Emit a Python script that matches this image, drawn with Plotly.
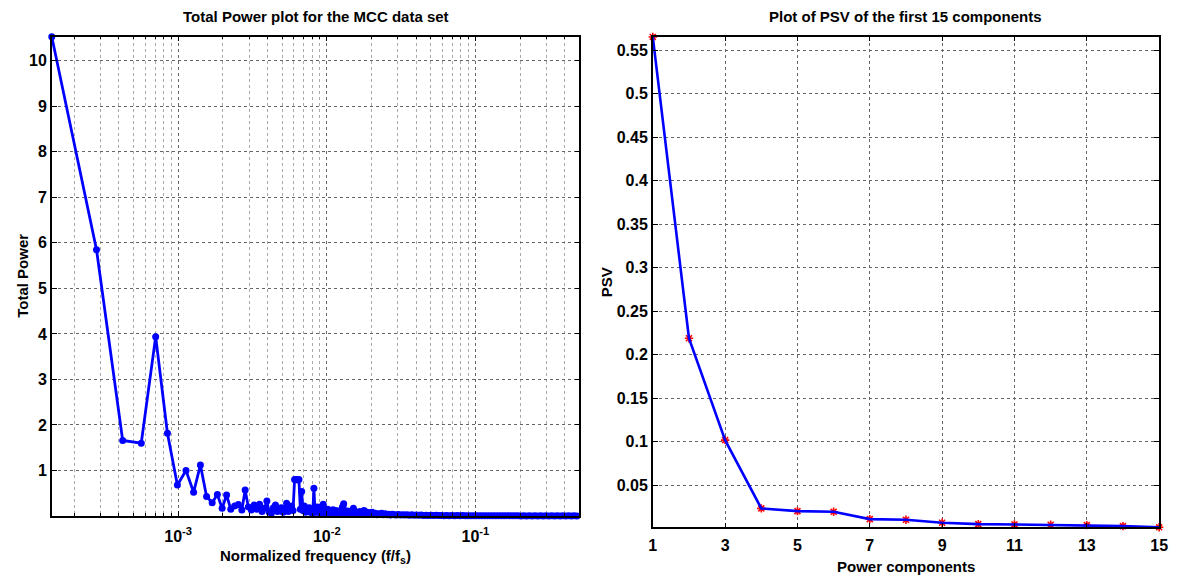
import plotly.graph_objects as go
import math

# ---------------- data ----------------
N_SAMPLES = 7080  # record length -> frequency resolution 1/N

# left panel: frequency index k (f/fs = k/N) and total power
power_k = [
    1, 2, 3, 4, 5, 6, 7, 8, 9, 10,
    11, 12, 13, 14, 15, 16, 17, 18, 19, 20,
    21, 22, 23, 24, 25, 26, 27, 28, 29, 30,
    31, 32, 33, 34, 35, 36, 37, 38, 39, 40,
    41, 42, 43, 44, 45, 46, 47, 48, 49, 50,
    51, 52, 53, 54, 55, 56, 57, 58, 59, 60,
    61, 62, 63, 64, 65, 66, 67, 68, 69, 70,
    71, 72, 73, 74, 75, 76, 77, 78, 79, 80,
    81, 82, 83, 84, 85, 86, 87, 88, 89, 90,
    91, 92, 93, 94, 95, 96, 97, 98, 99, 100,
    102, 104, 106, 107, 108, 110, 112, 115, 118, 120,
    123, 126, 128, 131, 134, 137, 140, 143, 147, 150,
    154, 158, 162, 166, 170, 175, 180, 185, 190, 196,
    202, 208, 215, 222, 230, 238, 246, 255, 264, 274,
    284, 295, 306, 318, 330, 343, 357, 371, 386, 402,
    418, 435, 453, 472, 492, 513, 535, 558, 582, 607,
    633, 660, 689, 719, 750, 783, 817, 853, 890, 929,
    970, 1013, 1058, 1105, 1154, 1205, 1258, 1314, 1372, 1433,
    1497, 1563, 1632, 1704, 1780, 1859, 1941, 2027, 2117, 2211,
    2309, 2411, 2518, 2630, 2746, 2868, 2995, 3128, 3266, 3411,
    3540,
]
total_power = [
    10.53, 5.85, 1.66, 1.60, 3.94, 1.82, 0.68, 1.00, 0.52, 1.12,
    0.43, 0.29, 0.47, 0.17, 0.46, 0.15, 0.22, 0.25, 0.13, 0.57,
    0.20, 0.13, 0.24, 0.15, 0.26, 0.10, 0.17, 0.33, 0.09, 0.06,
    0.18, 0.24, 0.10, 0.12, 0.18, 0.08, 0.14, 0.28, 0.10, 0.16,
    0.22, 0.12, 0.80, 0.80, 0.79, 0.80, 0.15, 0.54, 0.12, 0.22,
    0.08, 0.14, 0.10, 0.18, 0.08, 0.12, 0.06, 0.61, 0.12, 0.08,
    0.20, 0.10, 0.18, 0.06, 0.14, 0.22, 0.26, 0.08, 0.12, 0.05,
    0.10, 0.15, 0.06, 0.12, 0.08, 0.04, 0.10, 0.14, 0.06, 0.09,
    0.12, 0.05, 0.08, 0.11, 0.04, 0.07, 0.10, 0.05, 0.12, 0.18,
    0.22, 0.27, 0.12, 0.06, 0.09, 0.04, 0.08, 0.11, 0.05, 0.07,
    0.10, 0.06, 0.12, 0.17, 0.08, 0.05, 0.09, 0.06, 0.10, 0.04,
    0.08, 0.12, 0.06, 0.09, 0.04, 0.07, 0.05, 0.08, 0.04, 0.06,
    0.03, 0.05, 0.04, 0.06, 0.03, 0.05, 0.03, 0.04, 0.02, 0.04,
    0.03, 0.02, 0.035, 0.02, 0.03, 0.02, 0.025, 0.015, 0.025, 0.015,
    0.02, 0.015, 0.02, 0.012, 0.018, 0.010, 0.016, 0.010, 0.014, 0.010,
    0.013, 0.008, 0.012, 0.008, 0.011, 0.007, 0.010, 0.006, 0.009, 0.006,
    0.008, 0.005, 0.008, 0.005, 0.007, 0.004, 0.007, 0.004, 0.006, 0.004,
    0.006, 0.003, 0.005, 0.003, 0.005, 0.003, 0.004, 0.003, 0.004, 0.002,
    0.004, 0.002, 0.003, 0.002, 0.003, 0.002, 0.003, 0.002, 0.003, 0.002,
    0.003, 0.002, 0.003, 0.002, 0.003, 0.002, 0.003, 0.002, 0.003, 0.002,
    0.003,
]
freq_norm = [k / N_SAMPLES for k in power_k]

# right panel: PSV of the first 15 components
components = [1, 2, 3, 4, 5, 6, 7, 8, 9, 10, 11, 12, 13, 14, 15]
psv = [0.565, 0.219, 0.102, 0.0236, 0.0205, 0.0197, 0.0113, 0.0105,
       0.0071, 0.0056, 0.0052, 0.0048, 0.0044, 0.0033, 0.0019]

left_xticks = [1e-3, 1e-2, 1e-1]
left_xticktext = ["10<sup>-3</sup>", "10<sup>-2</sup>", "10<sup>-1</sup>"]
left_yticks = [1, 2, 3, 4, 5, 6, 7, 8, 9, 10]
right_xticks = [1, 3, 5, 7, 9, 11, 13, 15]
right_yticks = [0.05, 0.1, 0.15, 0.2, 0.25, 0.3, 0.35, 0.4, 0.45, 0.5, 0.55]
right_yticktext = ["0.05", "0.1", "0.15", "0.2", "0.25", "0.3", "0.35",
                   "0.4", "0.45", "0.5", "0.55"]

# ---------------- figure ----------------
W, H = 1182, 577
FONT = "Liberation Sans Narrow, Arial Narrow, Liberation Sans, Arial"
BLUE = "#0000FF"

fig = go.Figure()

fig.add_trace(go.Scatter(
    x=freq_norm, y=total_power, mode="lines+markers",
    line=dict(color=BLUE, width=2.8),
    marker=dict(color=BLUE, size=7),
    xaxis="x", yaxis="y", cliponaxis=False, showlegend=False,
))

fig.add_trace(go.Scatter(
    x=components, y=psv, mode="markers",
    marker=dict(symbol="asterisk-open", color="red", size=7,
                line=dict(color="red", width=1.6)),
    xaxis="x2", yaxis="y2", cliponaxis=False, showlegend=False,
))
fig.add_trace(go.Scatter(
    x=components, y=psv, mode="lines",
    line=dict(color=BLUE, width=2.6),
    xaxis="x2", yaxis="y2", cliponaxis=False, showlegend=False,
))

def px_x(p):
    return p / W

def px_y(p):
    return 1 - p / H

tickfont = dict(family=FONT, size=16, color="black", weight="bold")
common = dict(
    showline=True, linecolor="black", linewidth=1.5, mirror="ticks",
    ticks="inside", ticklen=5, tickcolor="black", tickwidth=1,
    showgrid=True, gridcolor="#666", griddash="dot", gridwidth=1,
    zeroline=False, tickfont=tickfont,
)

fig.update_layout(
    width=W, height=H,
    margin=dict(l=0, r=0, t=0, b=0),
    paper_bgcolor="white", plot_bgcolor="white",
    xaxis=dict(
        domain=[px_x(48.3), px_x(581.7)], anchor="y",
        type="log",
        range=[math.log10(1 / N_SAMPLES), math.log10(0.5)],
        tickvals=left_xticks, ticktext=left_xticktext,
        minor=dict(dtick="D1", ticks="inside", ticklen=3, tickcolor="black",
                   showgrid=True, gridcolor="#aaa", griddash="dot",
                   gridwidth=1),
        ticklabelstandoff=5,
        **common,
    ),
    yaxis=dict(
        domain=[px_y(516), px_y(36.7)], anchor="x",
        range=[0, 10.53], tickvals=left_yticks,
        **common,
    ),
    xaxis2=dict(
        domain=[px_x(656), px_x(1168)], anchor="y2",
        range=[1, 15], tickvals=right_xticks,
        ticklabelstandoff=3,
        **common,
    ),
    yaxis2=dict(
        domain=[px_y(527.3), px_y(36.7)], anchor="x2",
        range=[0.0019, 0.5653], tickvals=right_yticks,
        ticktext=right_yticktext,
        **common,
    ),
)

lab = dict(family=FONT, size=15, color="black", weight="bold")
ann = [
    dict(text="Total Power plot for the MCC data set", x=px_x(315), y=px_y(17)),
    dict(text="Plot of PSV of the first 15 components", x=px_x(912), y=px_y(17)),
    dict(text="Normalized frequency (f/f<sub>s</sub>)", x=px_x(315), y=px_y(556)),
    dict(text="Power components", x=px_x(912), y=px_y(566)),
    dict(text="Total Power", x=px_x(18), y=px_y(276), textangle=-90),
    dict(text="PSV", x=px_x(609), y=px_y(282), textangle=-90),
]
for a in ann:
    fig.add_annotation(xref="paper", yref="paper", showarrow=False,
                       xanchor="center", yanchor="middle", font=lab, **a)

fig.write_html("out.html")
